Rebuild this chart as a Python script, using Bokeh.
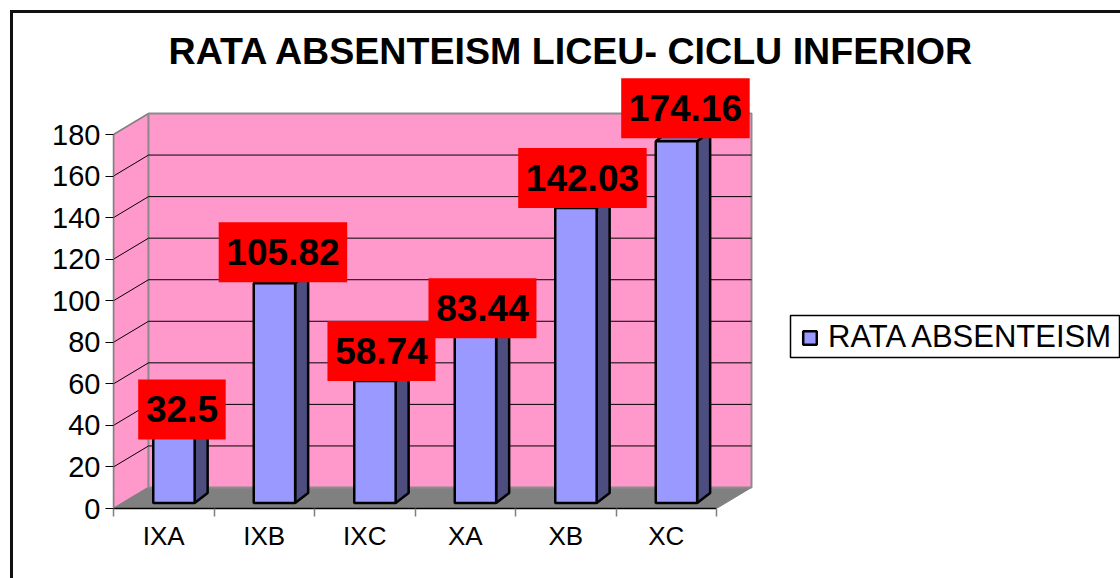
from bokeh.plotting import figure
from bokeh.embed import file_html
from bokeh.resources import INLINE
from bokeh.core.properties import value
from bokeh.models import FixedTicker, Range1d, PolyAnnotation, Legend, LegendItem, Title, InlineStyleSheet

categories = ["IXA", "IXB", "IXC", "XA", "XB", "XC"]
rata = [32.5, 105.82, 58.74, 83.44, 142.03, 174.16]
labels = ["32.5", "105.82", "58.74", "83.44", "142.03", "174.16"]
y_ticks = list(range(0, 181, 20))
title_text = "RATA ABSENTEISM LICEU- CICLU INFERIOR"
series_name = "RATA ABSENTEISM"

FONT = "Liberation Sans"
W, H = 1120, 578
LEFT, BOTTOM, TOP = 113, 70, 72
CAT_PX = 100.5
VAL_PX = 374 / 180

def dx(px):
    return px / CAT_PX

def dy(px):
    return px / VAL_PX

frame_css = InlineStyleSheet(css=""":host::after {
  content: ""; position: absolute; left: 9.5px; top: 10px; width: 1110.5px; height: 568px;
  box-sizing: border-box; border-left: 3px solid #111; border-top: 3px solid #111;
  pointer-events: none;
}""")

p = figure(width=W, height=H, output_backend="svg", toolbar_location=None,
           stylesheets=[frame_css],
           x_range=Range1d(0, dx(W - LEFT)), y_range=Range1d(0, dy(H - BOTTOM - TOP)),
           min_border_left=LEFT, min_border_bottom=BOTTOM, min_border_top=TOP, min_border_right=0)
p.outline_line_color = None
p.grid.visible = False
p.background_fill_color = "white"

p.title = Title(text=title_text, align="left", offset=55, standoff=2,
                text_font=FONT, text_font_size="37.6px", text_font_style="bold", text_color="black")

n = len(categories)
wx, wy = dx(35), dy(21)   # depth of the chart box
top_val = y_ticks[-1]
WALL = "#FF99CC"
GRAY = "#808080"

# floor, left wall, back wall
p.patch([0, n, n + wx, wx], [0, 0, wy, wy], fill_color=GRAY, line_color=GRAY)
p.patch([0, wx, wx, 0], [0, wy, top_val + wy, top_val], fill_color=WALL, line_color=GRAY, line_width=1.5)
p.patch([wx, n + wx, n + wx, wx], [wy, wy, top_val + wy, top_val + wy],
        fill_color=WALL, line_color="#8c8c8c", line_width=2)

# grid lines on the walls
inner = y_ticks[1:-1]
p.multi_line([[wx, n + wx] for _ in inner], [[v + wy, v + wy] for v in inner], line_color="black", line_width=1)
p.multi_line([[0, wx] for _ in inner], [[v, v + wy] for v in inner], line_color="black", line_width=1)

# bars
bx, by = dx(10.2), dy(5.5)
hw = dx(20.7)
sx, sy = dx(13), dy(10)
xc = [i + 0.5 + bx for i in range(n)]
p.patches([[c + hw, c + hw + sx, c + hw + sx, c + hw] for c in xc],
          [[by, by + sy, by + sy + v, by + v] for v in rata],
          fill_color="#4D4D80", line_color="black", line_width=2.5)
p.patches([[c - hw, c - hw + sx, c + hw + sx, c + hw] for c in xc],
          [[by + v, by + v + sy, by + v + sy, by + v] for v in rata],
          fill_color="#6F6FC0", line_color="black", line_width=2.5)
front = p.quad(left=[c - hw for c in xc], right=[c + hw for c in xc],
               bottom=[by] * n, top=[by + v for v in rata],
               fill_color="#9999FF", line_color="black", line_width=2.5)

# data labels
nudge_x = [8, 8.5, 6.5, 7, 6.5, 9]
nudge_y = [26, 31, 30, 21.5, 30, 33]
lx = [c + dx(a) for c, a in zip(xc, nudge_x)]
ly = [v + by + dy(b) for v, b in zip(rata, nudge_y)]
box_w = [20.5 * (len(s) - 1) + 26 for s in labels]
p.rect(x=lx, y=ly, width=box_w, height=[60] * n, width_units="screen", height_units="screen",
       fill_color="#FF0000", line_color=None)
p.text(x=lx, y=ly, text=labels, text_font=value(FONT), text_font_size=value("37px"),
       text_font_style="bold", text_align="center", text_baseline="middle", text_color="black")

# axes
xa = p.xaxis[0]
xa.ticker = FixedTicker(ticks=[i + 0.5 for i in range(n)], minor_ticks=list(range(n + 1)))
xa.major_label_overrides = {i + 0.5: c for i, c in enumerate(categories)}
xa.bounds = (0, n)
xa.major_tick_line_color = None
xa.minor_tick_out = 8
xa.minor_tick_in = 0
xa.minor_tick_line_color = GRAY
xa.minor_tick_line_width = 1.5
xa.axis_line_color = "black"
xa.axis_line_width = 1.5
xa.major_label_standoff = 4
xa.major_label_text_font = FONT
xa.major_label_text_font_size = "26px"
xa.major_label_text_color = "black"

ya = p.yaxis[0]
ya.ticker = FixedTicker(ticks=y_ticks)
ya.bounds = (0, top_val)
ya.minor_tick_line_color = None
ya.major_tick_out = 8
ya.major_tick_in = 0
ya.major_tick_line_color = "black"
ya.axis_line_color = GRAY
ya.axis_line_width = 1.5
ya.major_label_standoff = 5
ya.major_label_text_font = FONT
ya.major_label_text_font_size = "29px"
ya.major_label_text_color = "black"

# legend
p.add_layout(PolyAnnotation(xs=[790, 1119, 1119, 790], ys=[315, 315, 357, 357],
                            xs_units="canvas", ys_units="canvas",
                            fill_color="white", fill_alpha=1, line_color="black", line_width=1.5, line_alpha=1))
legend = Legend(items=[LegendItem(label=series_name, renderers=[front])],
                location=(688, 153), orientation="vertical", margin=0, padding=10,
                glyph_width=17, glyph_height=17, label_standoff=10,
                label_text_font=FONT, label_text_font_size="31px", label_text_color="black",
                border_line_color=None, background_fill_alpha=0)
p.add_layout(legend)

open("out.html", "w").write(file_html(p, INLINE))
